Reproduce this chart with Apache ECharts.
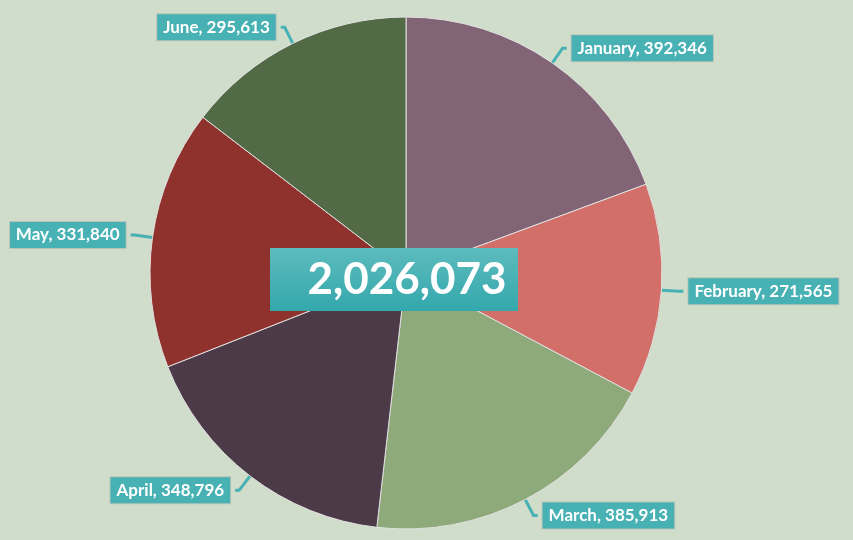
<!DOCTYPE html>
<html lang="en">
<head>
	<meta charset="UTF-8">
	<title>Monthly totals pie</title>
	<script type="text/javascript" src="https://cdn.jsdelivr.net/npm/echarts@6/dist/echarts.min.js"></script>
	<style>
		html, body { margin: 0; padding: 0; background: #d1ddcb; }
		#main { width: 853px; height: 540px; }
	</style>
</head>
<body>
	<div id="main"></div>
	<script type="text/javascript">
		var months = ['January', 'February', 'March', 'April', 'May', 'June'];
		var values = [392346, 271565, 385913, 348796, 331840, 295613];
		var colors = ['#826477', '#d26f68', '#8ea97a', '#4d3a48', '#8f312c', '#526b46'];

		var total = values.reduce(function (a, b) { return a + b; }, 0);
		function fmt(n) { return n.toLocaleString('en-US'); }

		var myChart = echarts.init(document.getElementById('main'));
		var option = {
			backgroundColor: '#d1ddcb',
			color: colors,
			graphic: [{
				type: 'rect',
				left: 270, top: 248,
				shape: { width: 248, height: 63 },
				style: {
					fill: new echarts.graphic.LinearGradient(0, 0, 0, 1, [
						{ offset: 0, color: '#5dbbbd' },
						{ offset: 1, color: '#33a8ac' }
					])
				},
				z: 100
			}, {
				type: 'text',
				x: 407, y: 280,
				style: {
					text: fmt(total),
					fill: '#fff',
					align: 'center',
					verticalAlign: 'middle',
					font: 'bold 44px Lato, "Open Sans", sans-serif'
				},
				z: 101
			}],
			series: [{
				type: 'pie',
				center: [406, 273],
				radius: 256,
				startAngle: 90,
				clockwise: true,
				silent: true,
				itemStyle: { borderColor: '#e0e0e0', borderWidth: 1 },
				label: {
					show: true,
					position: 'outside',
					overflow: 'none',
					edgeDistance: 0,
					formatter: function (p) { return p.name + ', ' + fmt(p.value); },
					color: '#fff',
					fontFamily: 'Lato, "Open Sans", sans-serif',
					fontWeight: 'bold',
					fontSize: 17,
					backgroundColor: '#47b1b4',
					borderColor: '#b8c4b8',
					borderWidth: 1,
					padding: [5, 6, 4, 6]
				},
				labelLine: {
					show: true,
					length: 18,
					length2: 4,
					lineStyle: { color: '#47b1b4', width: 3 }
				},
				data: months.map(function (m, i) { return { name: m, value: values[i] }; })
			}]
		};
		myChart.setOption(option);
	</script>
</body>
</html>
